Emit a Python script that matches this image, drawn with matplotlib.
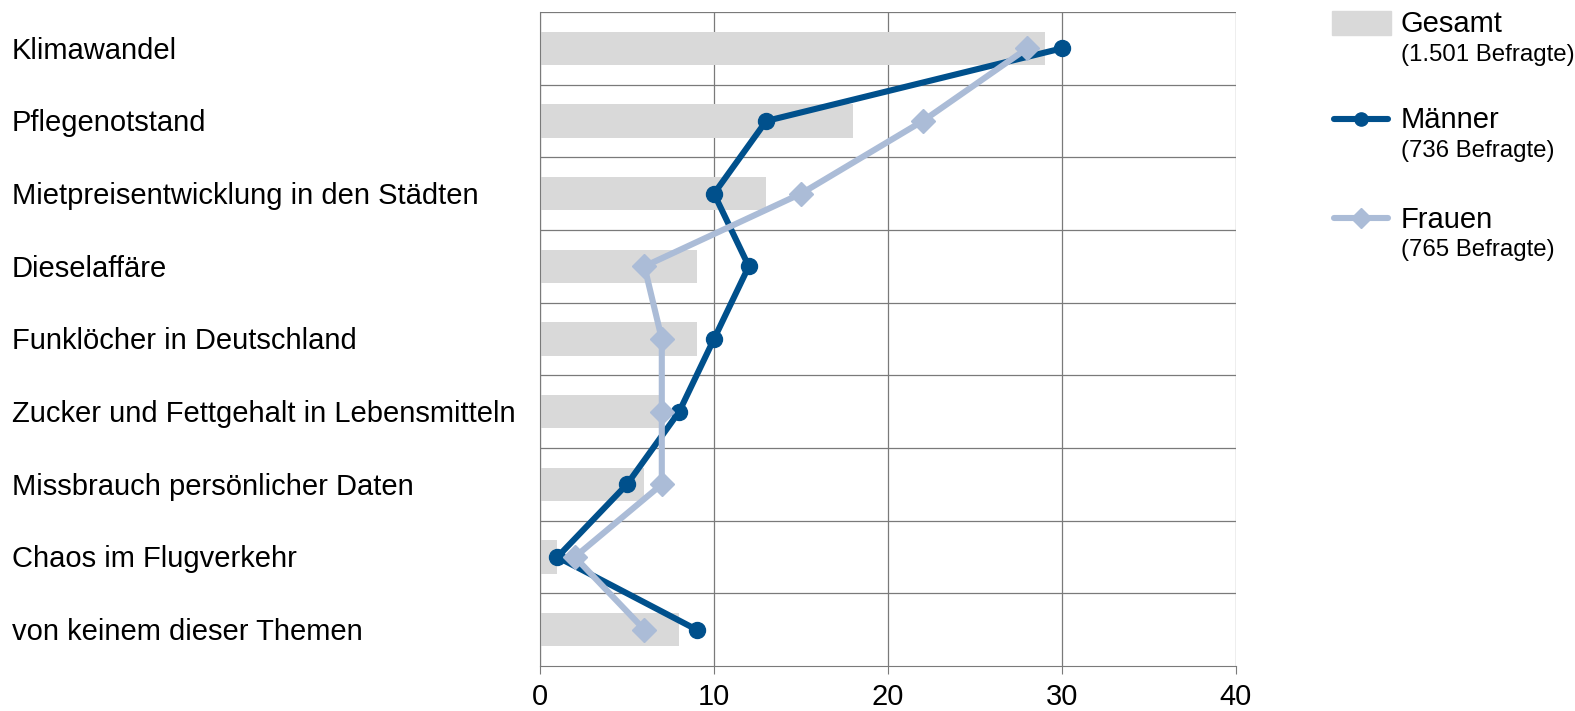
import matplotlib
matplotlib.use("Agg")
import matplotlib.pyplot as plt
from matplotlib import transforms
from matplotlib.patches import Rectangle
from matplotlib.lines import Line2D

plt.rcParams['font.family'] = ['Liberation Sans', 'DejaVu Sans']

categories = [
    "Klimawandel",
    "Pflegenotstand",
    "Mietpreisentwicklung in den Städten",
    "Dieselaffäre",
    "Funklöcher in Deutschland",
    "Zucker und Fettgehalt in Lebensmitteln",
    "Missbrauch persönlicher Daten",
    "Chaos im Flugverkehr",
    "von keinem dieser Themen",
]
gesamt = [29, 18, 13, 9, 9, 7, 6, 1, 8]
maenner = [30, 13, 10, 12, 10, 8, 5, 1, 9]
frauen = [28, 22, 15, 6, 7, 7, 7, 2, 6]
xticks = [0, 10, 20, 30, 40]

legend_names = ["Gesamt", "Männer", "Frauen"]
legend_subs = ["(1.501 Befragte)", "(736 Befragte)", "(765 Befragte)"]

C_BAR = "#D9D9D9"
C_M = "#00508C"
C_F = "#ABBCD7"
C_GRID = "#7A7A7A"

W, H = 1575, 711
fig = plt.figure(figsize=(W / 100, H / 100), dpi=100)

def fx(x):
    return x / W

def fy(y):
    return 1 - y / H

L, R, T, B = 540, 1236, 12, 666
ax = fig.add_axes([fx(L), fy(B), fx(R) - fx(L), fy(T) - fy(B)])

LW = 4.4
n = len(categories)
ypos = list(range(n))
ax.barh(ypos, gesamt, height=0.46, color=C_BAR, zorder=1)
ax.plot(maenner, ypos, color=C_M, lw=LW, marker="o", ms=11.5, zorder=3,
        solid_joinstyle="round")
ax.plot(frauen, ypos, color=C_F, lw=LW, marker="D", ms=12, zorder=4,
        solid_joinstyle="miter")

ax.set_xlim(0, 40)
ax.set_ylim(n - 0.5, -0.5)
ax.set_xticks(xticks)
ax.set_xticklabels([str(v) for v in xticks], fontsize=21)
ax.set_yticks([])
for v in xticks:
    ax.axvline(v, color=C_GRID, lw=0.9, zorder=0.5)
for k in range(n):
    ax.axhline(k - 0.5, color=C_GRID, lw=0.9, zorder=0.5)
for s in ["top", "right"]:
    ax.spines[s].set_visible(False)
ax.spines["left"].set_color(C_GRID)
ax.spines["bottom"].set_color(C_GRID)
ax.tick_params(axis="x", length=6, color=C_GRID, pad=6)

tr = transforms.blended_transform_factory(fig.transFigure, ax.transData)
for y, c in zip(ypos, categories):
    ax.text(fx(12), y + 0.03, c, transform=tr, ha="left", va="center", fontsize=21)

# legend
fig.add_artist(Rectangle((fx(1332), fy(35)), fx(1391) - fx(1332), fy(11) - fy(35),
                         transform=fig.transFigure, color=C_BAR))
leg_specs = [(C_M, "o", 9.5, 119), (C_F, "D", 10, 218)]
for col, mk, ms, y in leg_specs:
    fig.add_artist(Line2D([fx(1334), fx(1388)], [fy(y), fy(y)], transform=fig.transFigure,
                          color=col, lw=LW, solid_capstyle="round"))
    fig.add_artist(Line2D([fx(1361)], [fy(y)], transform=fig.transFigure,
                          color=col, marker=mk, ms=ms, ls="none"))
name_y = [24, 120, 220]
sub_y = [55, 151, 250]
for yn, ysb, name, sub in zip(name_y, sub_y, legend_names, legend_subs):
    fig.text(fx(1401), fy(yn), name, ha="left", va="center", fontsize=21)
    fig.text(fx(1401), fy(ysb), sub, ha="left", va="center", fontsize=17.3)

fig.savefig("out.png", dpi=100)
